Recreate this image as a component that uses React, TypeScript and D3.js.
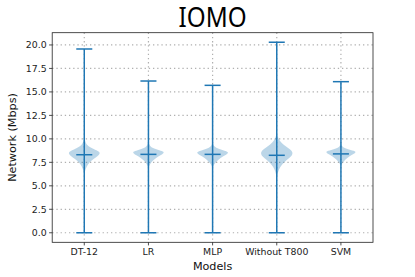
import React from "react";
import * as d3 from "d3";

// models on the x axis (positions 1..5)
const models = ["DT-12", "LR", "MLP", "Without T800", "SVM"];
const maxima = [19.57, 16.16, 15.7, 20.29, 16.09];
const minima = [0, 0, 0, 0, 0];
const centers = [8.31, 8.35, 8.35, 8.25, 8.4];

// violin outlines: [value, half width in x units]
const violinDT12 = [[10.3, 0], [9.8, 0.01], [9.3, 0.04], [9.0, 0.12], [8.7, 0.22], [8.5, 0.25], [8.2, 0.22], [7.9, 0.15], [7.5, 0.08], [7.1, 0.04], [6.6, 0.01], [6.2, 0]];
const violinLR = [[9.8, 0], [9.4, 0.01], [9.1, 0.04], [8.9, 0.12], [8.7, 0.22], [8.55, 0.25], [8.3, 0.2], [8.0, 0.12], [7.7, 0.07], [7.4, 0.03], [7.0, 0.005], [6.8, 0]];
const violinMLP = [[9.7, 0], [9.35, 0.01], [9.05, 0.05], [8.85, 0.14], [8.65, 0.23], [8.5, 0.25], [8.25, 0.2], [7.95, 0.12], [7.65, 0.07], [7.35, 0.03], [7.0, 0.005], [6.8, 0]];
const violinWO = [[10.8, 0], [10.3, 0.01], [9.8, 0.04], [9.4, 0.1], [9.0, 0.18], [8.7, 0.24], [8.4, 0.25], [8.1, 0.22], [7.8, 0.16], [7.4, 0.1], [7.0, 0.05], [6.5, 0.02], [6.0, 0.005], [5.6, 0]];
const violinSVM = [[9.6, 0], [9.3, 0.01], [9.0, 0.05], [8.8, 0.15], [8.65, 0.25], [8.4, 0.2], [8.1, 0.12], [7.8, 0.07], [7.5, 0.03], [7.2, 0.005], [7.0, 0]];
const violins = [violinDT12, violinLR, violinMLP, violinWO, violinSVM];

const yTicks = [0, 2.5, 5, 7.5, 10, 12.5, 15, 17.5, 20];

const width = 415, height = 277;
const margin = { top: 32.7, right: 42, bottom: 34.7, left: 52.2 };
const blue = "#1f77b4";
const font = "'DejaVu Sans', sans-serif";

export default function App() {
  const x = d3.scaleLinear().domain([0.5, 5.5]).range([margin.left, width - margin.right]);
  const y = d3.scaleLinear().domain([-1.015, 21.305]).range([height - margin.bottom, margin.top]);
  const unit = x(1) - x(0);

  const area = (pos: number) => d3.area<number[]>()
    .y(d => y(d[0]))
    .x0(d => x(pos) - d[1] * unit)
    .x1(d => x(pos) + d[1] * unit)
    .curve(d3.curveBasis);

  const capHalf = 0.125 * unit;
  const left = margin.left, right = width - margin.right;
  const top = margin.top, bottom = height - margin.bottom;

  return (
    <svg width={width} height={height} style={{ position: "absolute", left: 0, top: 0 }}>
      <rect x={0} y={0} width={width} height={height} fill="white" />
      {/* grid */}
      <g stroke="#b0b0b0" strokeWidth={1.2} strokeDasharray="1.3 2.9">
        {yTicks.map(t => <line key={"gy" + t} x1={left} x2={right} y1={y(t)} y2={y(t)} />)}
        {models.map((m, i) => <line key={"gx" + m} x1={x(i + 1)} x2={x(i + 1)} y1={top} y2={bottom} />)}
      </g>
      {/* violins */}
      {violins.map((v, i) => (
        <path key={"v" + i} d={area(i + 1)(v) || ""} fill={blue} fillOpacity={0.3} stroke="none" />
      ))}
      <g stroke={blue} strokeWidth={1.5}>
        {models.map((m, i) => (
          <g key={"b" + m}>
            <line x1={x(i + 1)} x2={x(i + 1)} y1={y(minima[i])} y2={y(maxima[i])} />
            <line x1={x(i + 1) - capHalf} x2={x(i + 1) + capHalf} y1={y(maxima[i])} y2={y(maxima[i])} />
            <line x1={x(i + 1) - capHalf} x2={x(i + 1) + capHalf} y1={y(minima[i])} y2={y(minima[i])} />
            <line x1={x(i + 1) - capHalf} x2={x(i + 1) + capHalf} y1={y(centers[i])} y2={y(centers[i])} />
          </g>
        ))}
      </g>
      {/* frame */}
      <rect x={left} y={top} width={right - left} height={bottom - top} fill="none" stroke="#222" strokeWidth={0.8} />
      {/* axes */}
      <g fontFamily={font} fontSize={9.4} fill="#222">
        {yTicks.map(t => (
          <g key={"ty" + t}>
            <line x1={left - 3.1} x2={left} y1={y(t)} y2={y(t)} stroke="#222" strokeWidth={0.8} />
            <text x={left - 5.5} y={y(t)} dy="0.35em" textAnchor="end">{t.toFixed(1)}</text>
          </g>
        ))}
        {models.map((m, i) => (
          <g key={"tx" + m}>
            <line x1={x(i + 1)} x2={x(i + 1)} y1={bottom} y2={bottom + 3.1} stroke="#222" strokeWidth={0.8} />
            <text x={x(i + 1)} y={bottom + 6} dy="0.76em" textAnchor="middle">{m}</text>
          </g>
        ))}
      </g>
      <text x={(left + right) / 2} y={270} textAnchor="middle" fontFamily={font} fontSize={11.2} fill="#111">Models</text>
      <text transform={`translate(16,${(top + bottom) / 2}) rotate(-90)`} textAnchor="middle" fontFamily={font} fontSize={11.2} fill="#111">Network (Mbps)</text>
      <text x={(left + right) / 2} y={27.3} textAnchor="middle" fontFamily="'Noto Sans', sans-serif" fontSize={28} textLength={68} lengthAdjust="spacingAndGlyphs" fill="#000">IOMO</text>
    </svg>
  );
}
